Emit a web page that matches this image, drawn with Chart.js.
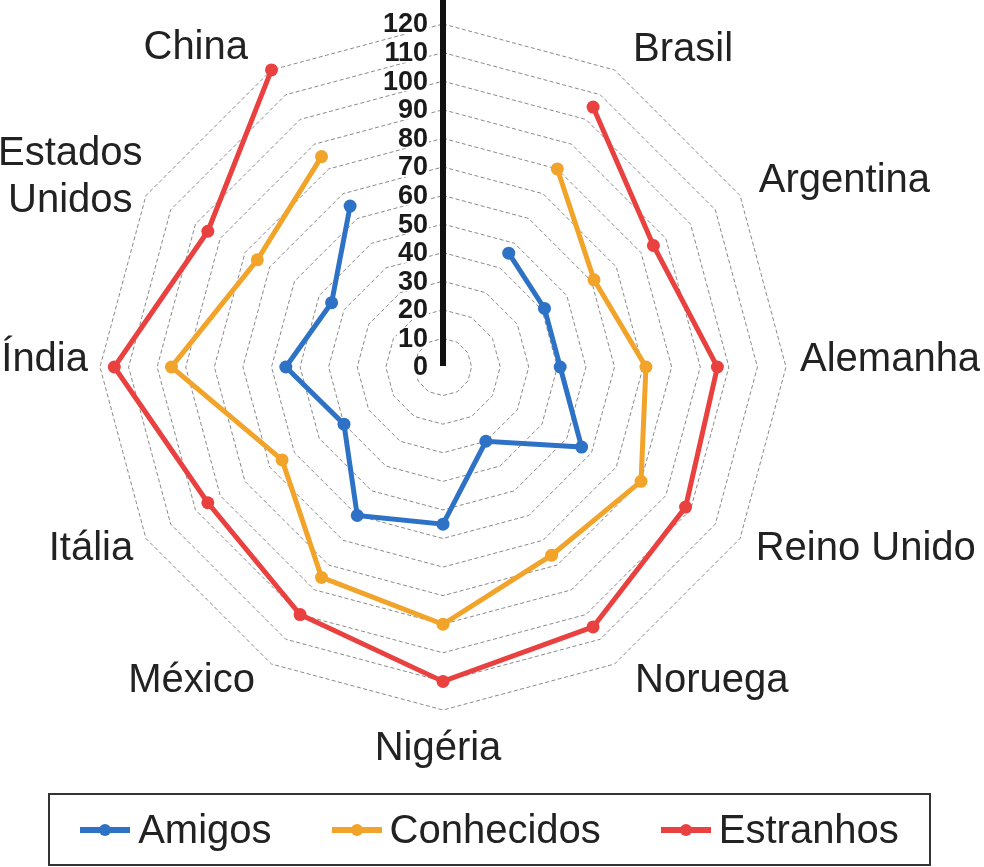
<!DOCTYPE html>
<html>
<head>
<meta charset="utf-8">
<script src="https://cdn.jsdelivr.net/npm/chart.js@4.4.0/dist/chart.umd.min.js"></script>
<style>
  html, body { margin: 0; padding: 0; background: #fff; }
  #wrap { position: relative; width: 984px; height: 867px; overflow: hidden; }
  #c { position: absolute; left: 0; top: 0; }
  #legend {
    position: absolute; left: 48px; top: 793px; width: 883px; height: 73px;
    box-sizing: border-box; border: 2px solid #333;
    display: flex; justify-content: center; align-items: center; gap: 60px;
    font-family: "Liberation Sans", Arial, sans-serif; font-size: 40px; color: #222;
  }
  .item { display: flex; align-items: center; }
  .mk { position: relative; width: 50px; height: 12px; margin-right: 8px; }
  .mk .ln { position: absolute; left: 0; top: 3px; width: 50px; height: 6px; }
  .mk .dt { position: absolute; left: 19px; top: 0; width: 12px; height: 12px; border-radius: 50%; }
</style>
</head>
<body>
<div id="wrap">
  <canvas id="c" width="984" height="867"></canvas>
  <div id="legend"></div>
</div>
<script>
// ---- data ----
const categories = ['', 'Brasil', 'Argentina', 'Alemanha', 'Reino Unido', 'Noruega', 'Nigéria', 'México', 'Itália', 'Índia', ['Estados', 'Unidos'], 'China'];
const amigos     = [null, 46, 41, 41, 56, 30, 55, 60, 40, 55, 45, 65];
const conhecidos = [null, 80, 61, 71, 80, 76, 90, 85, 65, 95, 75, 85];
const estranhos  = [null, 105, 85, 96, 98, 105, 110, 100, 95, 115, 95, 120];
const seriesNames  = ['Amigos', 'Conhecidos', 'Estranhos'];
const seriesValues = [amigos, conhecidos, estranhos];
const seriesColors = ['#2e72c6', '#f2a329', '#e8413f'];
const scaleMin = 0, scaleMax = 120, scaleStep = 10;

// ---- label styling (distance beyond outer ring, small nudges) ----
const labelPad   = [0, 27, 24, 14, 18, 25, 39, 23, 17, 12, 12, 31];
const labelNudge = [[0,0],[5,3],[-2,-3],[0,-7],[0,1],[8,-5],[-5,0],[-5,-3],[2,2],[0,-7],[7,-12],[-8,5]];

const FONT = '"Liberation Sans", Arial, sans-serif';

const overlay = {
  id: 'overlay',
  beforeDatasetsDraw(chart) {
    const s = chart.scales.r, c = chart.ctx;
    c.save();
    // vertical axis
    c.strokeStyle = '#111'; c.lineWidth = 6; c.setLineDash([]);
    c.beginPath(); c.moveTo(s.xCenter, s.yCenter - 1); c.lineTo(s.xCenter, 0); c.stroke();
    // tick labels
    c.font = 'bold 27px ' + FONT;
    c.textAlign = 'right'; c.textBaseline = 'middle';
    s.ticks.forEach(t => {
      const y = s.yCenter - s.getDistanceFromCenterForValue(t.value);
      const label = String(t.label !== undefined && t.label !== '' ? t.label : t.value);
      const w = c.measureText(label).width;
      c.fillStyle = '#fff';
      c.fillRect(s.xCenter - 15 - w - 1, y - 10, w + 2, 20);
      c.fillStyle = '#1a1a1a';
      c.fillText(label, s.xCenter - 15, y + 1);
    });
    c.restore();
  },
  afterDraw(chart) {
    const s = chart.scales.r, c = chart.ctx;
    c.save();
    c.font = '40px ' + FONT;
    c.fillStyle = '#222';
    c.textBaseline = 'middle';
    c.textAlign = 'center';
    categories.forEach((lab, i) => {
      if (!lab || (Array.isArray(lab) && !lab.length)) return;
      const p = s.getPointPosition(i, s.drawingArea + labelPad[i]);
      const x = p.x + labelNudge[i][0], y = p.y + labelNudge[i][1];
      const lines = Array.isArray(lab) ? lab : [lab];
      const maxW = Math.max(...lines.map(l => c.measureText(l).width));
      const dx = p.x - s.xCenter;
      const cx = Math.abs(dx) < 1 ? x : (dx > 0 ? x + maxW / 2 : x - maxW / 2);
      const lh = 46.5;
      lines.forEach((l, k) => {
        c.fillText(l, cx, y + (k - (lines.length - 1) / 2) * lh);
      });
    });
    c.restore();
  }
};

new Chart(document.getElementById('c'), {
  type: 'radar',
  data: {
    labels: categories,
    datasets: seriesNames.map((n, i) => ({
      label: n,
      data: seriesValues[i],
      borderColor: seriesColors[i],
      backgroundColor: 'transparent',
      pointBackgroundColor: seriesColors[i],
      pointBorderColor: seriesColors[i],
      pointBorderWidth: 0,
      pointRadius: 6.5,
      borderWidth: 5,
      fill: false,
      spanGaps: false,
      tension: 0
    }))
  },
  options: {
    responsive: false,
    animation: false,
    layout: { padding: { left: 100, right: 198, top: 24, bottom: 157 } },
    plugins: { legend: { display: false }, tooltip: { enabled: false } },
    scales: {
      r: {
        min: scaleMin, max: scaleMax,
        ticks: { stepSize: scaleStep, display: false },
        grid: { color: '#8a8a8a', lineWidth: 1 },
        border: { dash: [4, 2.5] },
        angleLines: { display: false },
        pointLabels: { display: false }
      }
    }
  },
  plugins: [overlay]
});

// ---- legend ----
const lg = document.getElementById('legend');
seriesNames.forEach((n, i) => {
  const it = document.createElement('div'); it.className = 'item';
  const mk = document.createElement('div'); mk.className = 'mk';
  const ln = document.createElement('div'); ln.className = 'ln'; ln.style.background = seriesColors[i];
  const dt = document.createElement('div'); dt.className = 'dt'; dt.style.background = seriesColors[i];
  mk.appendChild(ln); mk.appendChild(dt);
  const tx = document.createElement('span'); tx.textContent = n;
  it.appendChild(mk); it.appendChild(tx);
  lg.appendChild(it);
});
</script>
</body>
</html>
